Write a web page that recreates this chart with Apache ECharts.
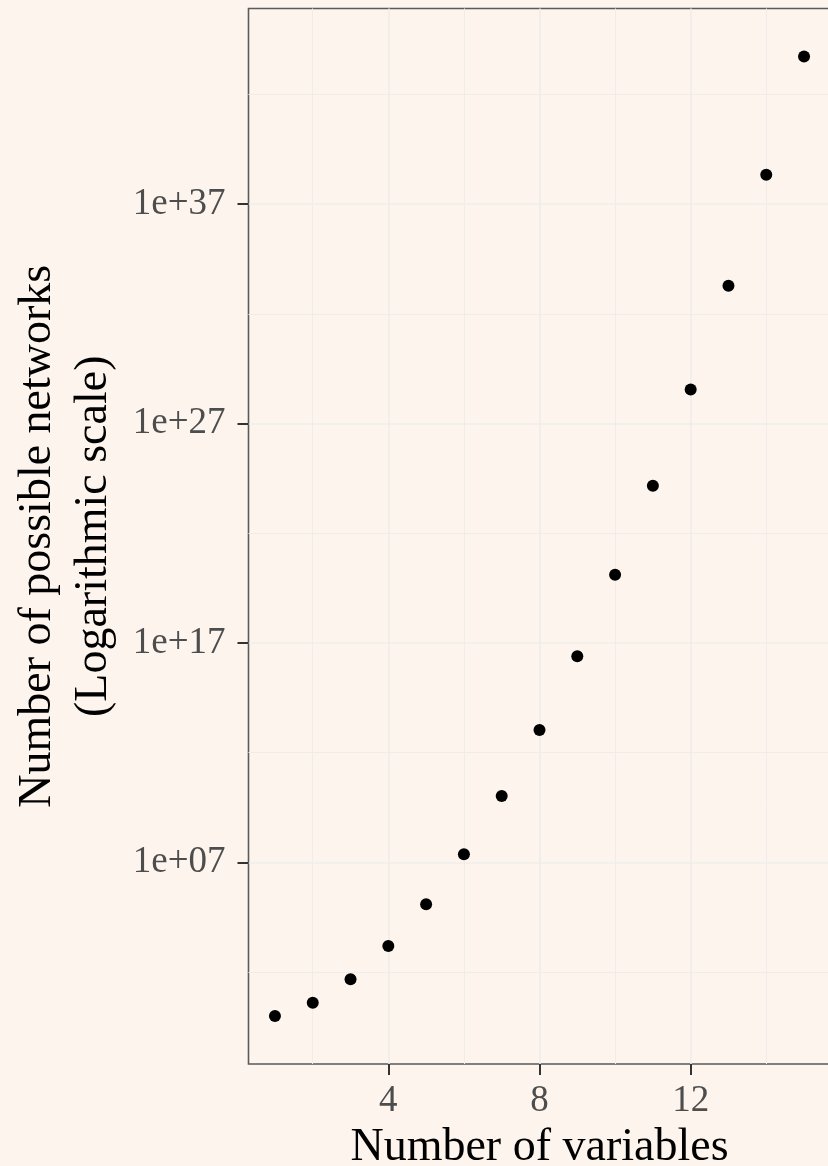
<!DOCTYPE html>
<html>
<head>
<meta charset="utf-8">
<script src="https://cdn.jsdelivr.net/npm/echarts@6/dist/echarts.min.js"></script>
<style>
html,body{margin:0;padding:0;background:#FDF5ED;}
#chart{width:828px;height:1166px;}
</style>
</head>
<body>
<div id="chart"></div>
<script>
// Number of variables
const variables = [1, 2, 3, 4, 5, 6, 7, 8, 9, 10, 11, 12, 13, 14, 15];
// Number of possible networks
const networks = [1, 4, 48, 1536, 122880, 2.36e7, 1.06e10, 1.08e13, 2.49e16, 1.28e20, 1.44e24, 3.53e28, 1.88e33, 2.16e38, 5.30e43];
// Tick values
const yMajorTicks = [1e-3, 1e7, 1e17, 1e27, 1e37, 1e47];
const yMinorTicks = [1e2, 1e12, 1e22, 1e32, 1e42];
const xMajorTicks = [0, 4, 8, 12, 16];
const xMinorTicks = [2, 6, 10, 14];

const FONT = 'Liberation Serif';
const BG = '#FDF5ED';
const GRID = '#EFECE9';

function fmtExp(v) {
  const e = Math.round(Math.log10(v));
  const s = e < 0 ? '-' : '+';
  const a = Math.abs(e);
  return '1e' + s + (a < 10 ? '0' + a : a);
}

const yMin = Math.pow(10, -2.186);
const yMax = Math.pow(10, 45.911);

const chart = echarts.init(document.getElementById('chart'), null, {renderer: 'canvas'});
chart.setOption({
  backgroundColor: BG,
  animation: false,
  grid: {
    left: 248.5, top: 8.5, right: -2.5, bottom: 102,
    show: true, backgroundColor: BG, borderColor: '#5a5a5a', borderWidth: 1.6,
    containLabel: false, outerBoundsMode: 'none'
  },
  xAxis: [{
    type: 'value', min: 0.3, max: 15.7,
    axisLine: {show: false},
    axisTick: {show: true, length: 11, lineStyle: {color: '#333', width: 2}, customValues: xMajorTicks},
    axisLabel: {show: true, customValues: xMajorTicks, margin: 19, color: '#4D4D4D', fontSize: 37, fontFamily: FONT},
    splitLine: {show: true, lineStyle: {color: GRID, width: 1.6}},
    name: 'Number of variables', nameLocation: 'middle', nameGap: 61,
    nameTextStyle: {color: '#000', fontSize: 46, fontFamily: FONT}
  }, {
    type: 'value', min: 0.3, max: 15.7, position: 'top',
    axisLine: {show: false},
    axisTick: {show: false, customValues: xMinorTicks},
    axisLabel: {show: false, customValues: xMinorTicks},
    splitLine: {show: true, lineStyle: {color: GRID, width: 1}}
  }],
  yAxis: [{
    type: 'log', logBase: 10, min: yMin, max: yMax,
    axisLine: {show: false},
    axisTick: {show: true, length: 11, lineStyle: {color: '#333', width: 2}, customValues: yMajorTicks},
    axisLabel: {show: true, customValues: yMajorTicks, margin: 23, color: '#4D4D4D', fontSize: 37, fontFamily: FONT,
      formatter: fmtExp},
    splitLine: {show: true, lineStyle: {color: GRID, width: 1.6}},
    name: 'Number of possible networks\n(Logarithmic scale)', nameLocation: 'middle', nameGap: 126, nameRotate: 90,
    nameTextStyle: {color: '#000', fontSize: 46, fontFamily: FONT, lineHeight: 56, align: 'center'}
  }, {
    type: 'log', logBase: 10, min: yMin, max: yMax, position: 'right',
    axisLine: {show: false},
    axisTick: {show: false, customValues: yMinorTicks},
    axisLabel: {show: false, customValues: yMinorTicks},
    splitLine: {show: true, lineStyle: {color: GRID, width: 1}}
  }],
  series: [{
    type: 'scatter',
    xAxisIndex: 0, yAxisIndex: 0,
    symbol: 'circle', symbolSize: 12,
    itemStyle: {color: '#000', opacity: 1},
    data: variables.map((v, i) => [v, networks[i]]),
    z: 5
  }]
});
</script>
</body>
</html>
